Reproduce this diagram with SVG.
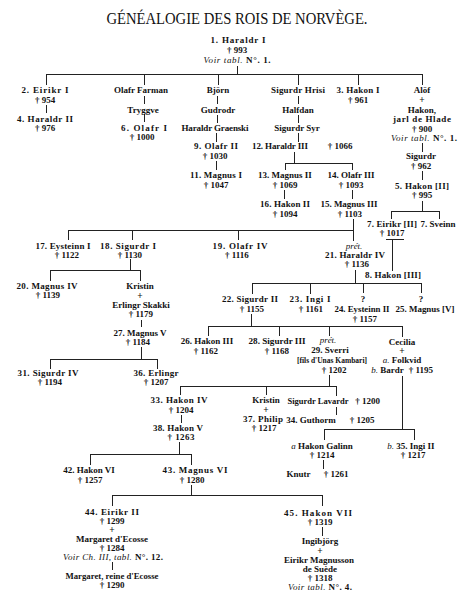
<svg xmlns="http://www.w3.org/2000/svg" width="474" height="607" viewBox="0 0 474 607">
<style>
.bg{fill:#fff}
.title{font-family:"Liberation Serif","Times New Roman",serif;font-size:16px;fill:#111;text-anchor:middle}
.t{font-family:"Liberation Serif","Times New Roman",serif;font-size:9px;font-weight:bold;fill:#111;text-anchor:middle}
.i{font-style:italic;font-weight:normal}
.p{font-family:"Liberation Serif","Times New Roman",serif;font-size:9.5px;font-weight:bold;fill:#111;text-anchor:middle}
.c path{stroke:#222;stroke-width:1;fill:none}
</style>
<rect class="bg" x="0" y="0" width="474" height="607"/>
<text class="title" x="237" y="24" textLength="261" lengthAdjust="spacingAndGlyphs">GÉNÉALOGIE DES ROIS DE NORVÈGE.</text>

<g id="connectors" class="c">
<path d="M237.5,66 V74.5 M46.5,74.5 H422.5 M46.5,74 V85 M144.5,74 V85 M218.5,74 V85 M298.5,74 V85 M358.5,74 V85 M422.5,74 V85"/>
<path d="M46.5,105 V113 M144.5,96 V104 M144.5,114 V122 M217.5,96 V104 M217.5,115 V123 M216.5,133 V142 M216.5,161 V170"/>
<path d="M298.5,96 V104 M298.5,115 V123 M298.5,133 V142"/>
<path d="M422.5,143 V152 M422.5,171 V180 M422.5,201 V211.5 M391.5,211.5 H439.5 M391.5,211 V219 M439.5,211 V219"/>
<path d="M294.5,152 V163.5 M285.5,163.5 H352.5 M285.5,163 V170 M352.5,163 V170 M284.5,190 V199 M352.5,190 V199"/>
<path d="M353.5,219 V241 M68.5,230.5 H353.5 M68.5,230 V240 M132.5,230 V240 M238.5,230 V240"/>
<path d="M386,239.5 H404 M392.5,240 V271"/>
<path d="M130.5,259 V270.5 M50.5,270.5 H140.5 M50.5,270 V281 M140.5,270 V281"/>
<path d="M141.5,320 V327 M141.5,347 V359.5 M50.5,359.5 H157.5 M50.5,359 V369 M157.5,359 V369"/>
<path d="M355.5,270 V283.5 M252.5,283.5 H421.5 M252.5,283 V294 M310.5,283 V294 M363.5,283 V293 M421.5,283 V293"/>
<path d="M251.5,314 V326.5 M208.5,326.5 H402.5 M208.5,326 V336 M279.5,326 V336 M329.5,326 V336 M402.5,326 V337"/>
<path d="M329.5,375 V386.5 M180.5,386.5 H336.5 M180.5,386 V395 M266.5,386 V395 M336.5,386 V396 M336.5,407 V415"/>
<path d="M181.5,415 V423 M179.5,442 V454.5 M90.5,454.5 H191.5 M90.5,454 V465 M191.5,454 V465"/>
<path d="M191.5,485 V495.5 M112.5,495.5 H322.5 M112.5,495 V506 M322.5,495 V506 M112.5,562 V570 M322.5,527 V536"/>
<path d="M402.5,376 V429.5 M324.5,429.5 H414.5 M324.5,429 V440 M414.5,429 V440 M323.5,460 V469"/>
</g>

<g id="n1"><text class="t" x="238" y="43" textLength="55" lengthAdjust="spacing">1. Haraldr I</text><text class="t" x="237" y="52.7">† 993</text><text class="t" x="237" y="63" textLength="67" lengthAdjust="spacing"><tspan class="i">Voir tabl.</tspan> N°. 1.</text></g>

<g id="n2"><text class="t" x="45" y="93" textLength="47" lengthAdjust="spacing">2. Eirikr I</text><text class="t" x="45" y="102.7">† 954</text></g>
<g id="n4"><text class="t" x="45" y="121.7" textLength="56" lengthAdjust="spacing">4. Haraldr II</text><text class="t" x="45" y="131">† 976</text></g>

<g id="olafr-farman"><text class="t" x="141" y="93">Olafr Farman</text></g>
<g id="tryggve"><text class="t" x="143" y="112.5">Tryggve</text></g>
<g id="n6"><text class="t" x="144" y="130.7" textLength="46" lengthAdjust="spacing">6. Olafr I</text><text class="t" x="142" y="140">† 1000</text></g>

<g id="bjorn"><text class="t" x="218" y="93">Björn</text></g>
<g id="gudrodr"><text class="t" x="218" y="112.5">Gudrodr</text></g>
<g id="haraldr-graenski"><text class="t" x="215" y="130.7" textLength="67" lengthAdjust="spacing">Haraldr Graenski</text></g>
<g id="n9"><text class="t" x="216" y="149.3" textLength="44" lengthAdjust="spacing">9. Olafr II</text><text class="t" x="215" y="159.3">† 1030</text></g>
<g id="n11"><text class="t" x="216" y="178.3" textLength="52" lengthAdjust="spacing">11. Magnus I</text><text class="t" x="216" y="187.7">† 1047</text></g>

<g id="sigurdr-hrisi"><text class="t" x="298" y="93" textLength="54" lengthAdjust="spacing">Sigurdr Hrisi</text></g>
<g id="halfdan"><text class="t" x="298" y="112.5">Halfdan</text></g>
<g id="sigurdr-syr"><text class="t" x="297" y="130.7">Sigurdr Syr</text></g>
<g id="n12"><text class="t" x="280" y="149.3" textLength="56" lengthAdjust="spacing">12. Haraldr III</text><text class="t" x="340" y="149.3">† 1066</text></g>
<g id="n13"><text class="t" x="285" y="178.3">13. Magnus II</text><text class="t" x="285" y="187.7">† 1069</text></g>
<g id="n16"><text class="t" x="285" y="207.3" textLength="50" lengthAdjust="spacing">16. Hakon II</text><text class="t" x="285" y="216.7">† 1094</text></g>
<g id="n14"><text class="t" x="351" y="178.3">14. Olafr III</text><text class="t" x="351" y="187.7">† 1093</text></g>
<g id="n15"><text class="t" x="349" y="207.3" textLength="57" lengthAdjust="spacing">15. Magnus III</text><text class="t" x="350" y="216.7">† 1103</text></g>

<g id="n3"><text class="t" x="358" y="93" textLength="43" lengthAdjust="spacing">3. Hakon I</text><text class="t" x="358" y="102.7">† 961</text></g>

<g id="alof"><text class="t" x="422" y="93">Alöf</text><text class="p" x="422" y="102.9">+</text><text class="t" x="422" y="112.5">Hakon,</text><text class="t" x="422" y="121.7" textLength="58" lengthAdjust="spacing">jarl de Hlade</text><text class="t" x="422" y="131.5">† 900</text><text class="t" x="424" y="141" textLength="66" lengthAdjust="spacing"><tspan class="i">Voir tabl.</tspan> N°. 1.</text></g>
<g id="sigurdr"><text class="t" x="421" y="159.3">Sigurdr</text><text class="t" x="421" y="169.3">† 962</text></g>
<g id="n5"><text class="t" x="422" y="189" textLength="54" lengthAdjust="spacing">5. Hakon [II]</text><text class="t" x="422" y="198.3">† 995</text></g>
<g id="n7a"><text class="t" x="392" y="226.7" textLength="50" lengthAdjust="spacing">7. Eirikr [II]</text><text class="t" x="392" y="236">† 1017</text></g>
<g id="n7b"><text class="t" x="438" y="226.7">7. Sveinn</text></g>
<g id="n8"><text class="t" x="393" y="278.3" textLength="56" lengthAdjust="spacing">8. Hakon [III]</text></g>

<g id="n17"><text class="t" x="63" y="248.5" textLength="55" lengthAdjust="spacing">17. Eysteinn I</text><text class="t" x="67" y="257.5">† 1122</text></g>
<g id="n18"><text class="t" x="128" y="248.5" textLength="56" lengthAdjust="spacing">18. Sigurdr I</text><text class="t" x="130" y="257.5">† 1130</text></g>
<g id="n19"><text class="t" x="240" y="249" textLength="55" lengthAdjust="spacing">19. Olafr IV</text><text class="t" x="237" y="258">† 1116</text></g>
<g id="n21"><text class="t i" x="354" y="249.3">prét.</text><text class="t" x="355" y="258.3" textLength="60" lengthAdjust="spacing">21. Haraldr IV</text><text class="t" x="357" y="267.3">† 1136</text></g>

<g id="n20"><text class="t" x="47" y="288.5" textLength="61" lengthAdjust="spacing">20. Magnus IV</text><text class="t" x="48" y="297.5">† 1139</text></g>
<g id="kristin1"><text class="t" x="140" y="288.8">Kristin</text><text class="p" x="140" y="298.7">+</text><text class="t" x="141" y="308.3">Erlingr Skakki</text><text class="t" x="141" y="317.3">† 1179</text></g>
<g id="n27"><text class="t" x="140" y="336">27. Magnus V</text><text class="t" x="138" y="345">† 1184</text></g>
<g id="n31"><text class="t" x="48" y="376" textLength="61" lengthAdjust="spacing">31. Sigurdr IV</text><text class="t" x="50" y="385">† 1194</text></g>
<g id="n36"><text class="t" x="156" y="376" textLength="45" lengthAdjust="spacing">36. Erlingr</text><text class="t" x="156" y="385">† 1207</text></g>

<g id="n22"><text class="t" x="250" y="301.7" textLength="56" lengthAdjust="spacing">22. Sigurdr II</text><text class="t" x="252" y="311.7">† 1155</text></g>
<g id="n23"><text class="t" x="310" y="301.7" textLength="41" lengthAdjust="spacing">23. Ingi I</text><text class="t" x="311" y="311.7">† 1161</text></g>
<g id="n24"><text class="t" x="363" y="301.7">?</text><text class="t" x="362" y="311.7" textLength="55" lengthAdjust="spacingAndGlyphs">24. Eysteinn II</text><text class="t" x="365" y="321.7">† 1157</text></g>
<g id="n25"><text class="t" x="421" y="301.7">?</text><text class="t" x="425" y="311.7" textLength="59" lengthAdjust="spacingAndGlyphs">25. Magnus [V]</text></g>

<g id="n26"><text class="t" x="207" y="344">26. Hakon III</text><text class="t" x="206" y="353.5">† 1162</text></g>
<g id="n28"><text class="t" x="277" y="344" textLength="57" lengthAdjust="spacingAndGlyphs">28. Sigurdr III</text><text class="t" x="277" y="353.5">† 1168</text></g>
<g id="n29"><text class="t i" x="328" y="343">prét.</text><text class="t" x="330" y="352.5">29. Sverri</text><text class="t" x="332" y="362.5" textLength="70" lengthAdjust="spacingAndGlyphs">[fils d'Unas Kambari]</text><text class="t" x="334" y="372.5">† 1202</text></g>
<g id="cecilia"><text class="t" x="402" y="345">Cecilia</text><text class="p" x="402" y="354.3">+</text><text class="t" x="402" y="363.3"><tspan class="i">a.</tspan> Folkvid</text><text class="t" x="387.5" y="372.7"><tspan class="i">b.</tspan> Bardr</text><text class="t" x="421" y="372.7">† 1195</text></g>

<g id="n33"><text class="t" x="179" y="402.7" textLength="57" lengthAdjust="spacing">33. Hakon IV</text><text class="t" x="181" y="412.7">† 1204</text></g>
<g id="n38"><text class="t" x="178" y="431" textLength="50" lengthAdjust="spacing">38. Hakon V</text><text class="t" x="181" y="440" textLength="27" lengthAdjust="spacing">† 1263</text></g>
<g id="kristin2"><text class="t" x="266" y="403.3">Kristin</text><text class="p" x="266" y="412.7">+</text><text class="t" x="263" y="421.7" textLength="40" lengthAdjust="spacing">37. Philip</text><text class="t" x="264" y="431">† 1217</text></g>
<g id="sigurdr-lavardr"><text class="t" x="318" y="403.5" textLength="61" lengthAdjust="spacingAndGlyphs">Sigurdr Lavardr</text><text class="t" x="367.5" y="403.5">† 1200</text></g>
<g id="n34"><text class="t" x="311" y="422.5">34. Guthorm</text><text class="t" x="362" y="422.5">† 1205</text></g>

<g id="hakon-galinn"><text class="t" x="322" y="449"><tspan class="i">a</tspan> Hakon Galinn</text><text class="t" x="322" y="458.3">† 1214</text></g>
<g id="knutr"><text class="t" x="298.5" y="477.3">Knutr</text><text class="t" x="336" y="477.3">† 1261</text></g>
<g id="n35"><text class="t" x="411" y="449"><tspan class="i">b.</tspan> 35. Ingi II</text><text class="t" x="413" y="458.3">† 1217</text></g>

<g id="n42"><text class="t" x="89" y="473.3">42. Hakon VI</text><text class="t" x="90" y="482.7">† 1257</text></g>
<g id="n43"><text class="t" x="195" y="473.3" textLength="65" lengthAdjust="spacing">43. Magnus VI</text><text class="t" x="192" y="482.7">† 1280</text></g>

<g id="n44"><text class="t" x="112" y="515" textLength="54" lengthAdjust="spacing">44. Eirikr II</text><text class="t" x="112" y="524">† 1299</text><text class="p" x="112" y="533">+</text><text class="t" x="112" y="541.7">Margaret d'Ecosse</text><text class="t" x="112" y="550.7">† 1284</text><text class="t" x="113" y="560" textLength="100" lengthAdjust="spacing"><tspan class="i">Voir Ch. III, tabl.</tspan> N°. 12.</text></g>
<g id="margaret"><text class="t" x="112" y="579.3" textLength="93" lengthAdjust="spacingAndGlyphs">Margaret, reine d'Ecosse</text><text class="t" x="112" y="588.3">† 1290</text></g>

<g id="n45"><text class="t" x="318" y="515.5" textLength="68" lengthAdjust="spacing">45. Hakon VII</text><text class="t" x="320" y="524.5">† 1319</text></g>
<g id="ingibjorg"><text class="t" x="320" y="544">Ingibjörg</text><text class="p" x="320" y="553.7">+</text><text class="t" x="319" y="563" textLength="70" lengthAdjust="spacingAndGlyphs">Eirikr Magnusson</text><text class="t" x="320" y="571.5">de Suède</text><text class="t" x="320" y="580.5">† 1318</text><text class="t" x="320" y="590" textLength="64" lengthAdjust="spacing"><tspan class="i">Voir tabl.</tspan> N°. 4.</text></g>
</svg>
